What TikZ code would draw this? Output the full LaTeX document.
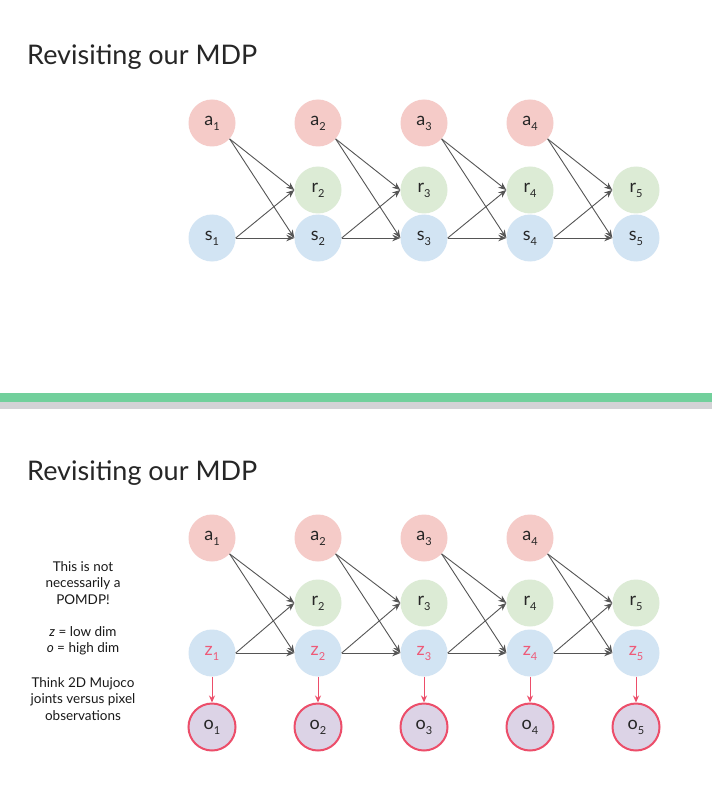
\documentclass[tikz,border=0pt]{standalone}
\usepackage{fontspec}
\setmainfont{Lato}
\usetikzlibrary{arrows.meta}
\definecolor{apink}{HTML}{F5CBC8}
\definecolor{rgreen}{HTML}{DCEBD5}
\definecolor{sblue}{HTML}{D2E4F3}
\definecolor{ofill}{HTML}{DCD3E6}
\definecolor{ored}{HTML}{EC4E6A}
\definecolor{ztext}{HTML}{EE5A78}
\definecolor{sepgreen}{HTML}{72D09C}
\definecolor{sepgray}{HTML}{D3D3D6}
\definecolor{arrgray}{HTML}{555555}
\newcommand{\lowsub}[1]{\raisebox{-5pt}{\fontsize{11}{11}\selectfont #1}}
\begin{document}
\begin{tikzpicture}[x=1pt,y=-1pt,
  nd/.style={circle, minimum size=47pt, inner sep=0pt, font=\fontsize{18}{18}\selectfont, text=black!85},
  anode/.style={nd, fill=apink},
  rnode/.style={nd, fill=rgreen},
  snode/.style={nd, fill=sblue},
  znode/.style={nd, fill=sblue, text=ztext},
  onode/.style={nd, fill=ofill, draw=ored, line width=2pt, minimum size=47pt},
  arr/.style={-{Stealth[length=8pt,width=6.5pt]}, draw=arrgray, line width=0.9pt},
  parr/.style={-{Stealth[length=7pt,width=6pt]}, draw=ored, line width=1pt},
  title/.style={anchor=base west, font=\fontsize{27}{27}\selectfont, text=black!85, inner sep=0pt},
  side/.style={align=center, font=\fontsize{13.5}{16.5}\selectfont, text=black!90}]
\useasboundingbox (0,0) rectangle (712,802);
\fill[white] (0,0) rectangle (712,802);
% separator
\fill[sepgreen] (0,393) rectangle (712,402);
\fill[sepgray] (0,402) rectangle (712,409);
% titles
\node[title] (t1) at (27,65) {Revisiting our MDP};
\node[title] (t2) at (27,480) {Revisiting our MDP};
% top panel
\foreach \i in {1,...,4} {
  \node[anode] (a\i) at ({212+106*(\i-1)},123) {a\lowsub{\i}};
}
\foreach \i in {2,...,5} {
  \node[rnode] (r\i) at ({212+106*(\i-1)},190) {r\lowsub{\i}};
}
\foreach \i in {1,...,5} {
  \node[snode] (s\i) at ({212+106*(\i-1)},238) {s\lowsub{\i}};
}
\foreach \i [evaluate=\i as \j using int(\i+1)] in {1,...,4} {
  \draw[arr] (a\i.-42) -- (r\j.west);
  \draw[arr] (a\i.-42) -- (s\j.west);
  \draw[arr] (s\i.east) -- (r\j.west);
  \draw[arr] (s\i.east) -- (s\j.west);
}
% bottom panel
\foreach \i in {1,...,4} {
  \node[anode] (b\i) at ({212+106*(\i-1)},538) {a\lowsub{\i}};
}
\foreach \i in {2,...,5} {
  \node[rnode] (q\i) at ({212+106*(\i-1)},603) {r\lowsub{\i}};
}
\foreach \i in {1,...,5} {
  \node[znode] (z\i) at ({212+106*(\i-1)},653) {z\lowsub{\i}};
  \node[onode] (o\i) at ({212+106*(\i-1)},727) {o\lowsub{\i}};
  \draw[parr] (z\i.south) -- (o\i.north);
}
\foreach \i [evaluate=\i as \j using int(\i+1)] in {1,...,4} {
  \draw[arr] (b\i.-42) -- (q\j.west);
  \draw[arr] (b\i.-42) -- (z\j.west);
  \draw[arr] (z\i.east) -- (q\j.west);
  \draw[arr] (z\i.east) -- (z\j.west);
}
% side text
\node[side] (n1) at (83,583) {This is not\\necessarily a\\POMDP!};
\node[side] (n2) at (83,641) {\textit{z} = low dim\\\textit{o} = high dim};
\node[side] (n3) at (83,699) {Think 2D Mujoco\\joints versus pixel\\observations};
\end{tikzpicture}
\end{document}
